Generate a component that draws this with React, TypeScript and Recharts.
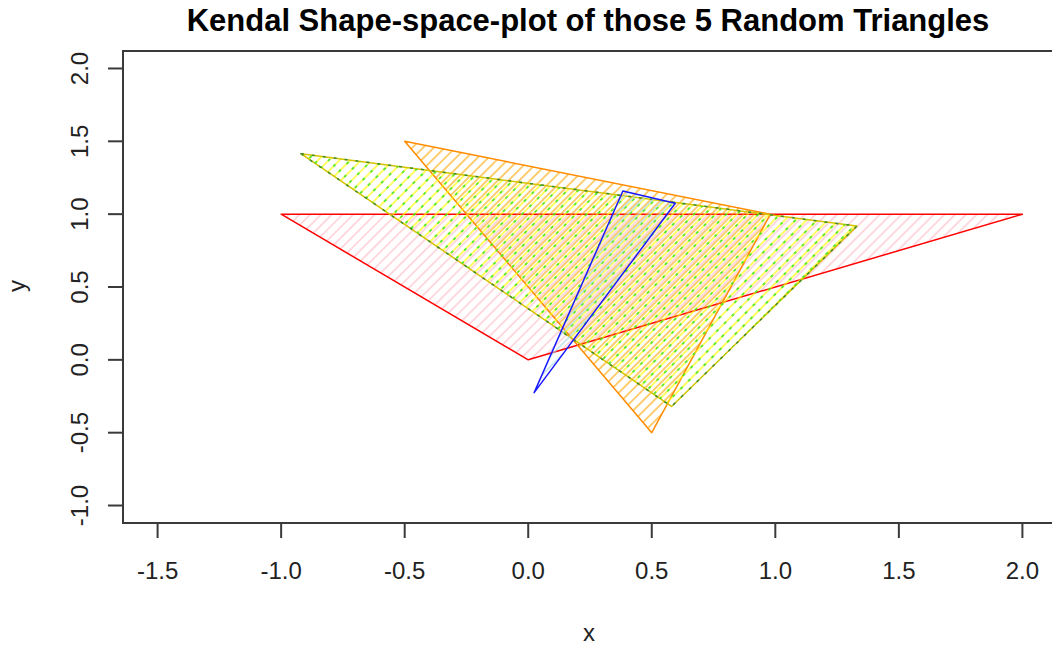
import React from 'react';
import { ScatterChart, Scatter, XAxis, YAxis, ReferenceArea } from 'recharts';

// Axis ticks and domains (R adds 4% around xlim = c(-1.5, 2), ylim = c(-1, 2))
const xTicks = [-1.5, -1.0, -0.5, 0, 0.5, 1.0, 1.5, 2.0];
const yTicks = [-1.0, -0.5, 0, 0.5, 1.0, 1.5, 2.0];
const xDomain: [number, number] = [-1.64, 2.14];
const yDomain: [number, number] = [-1.12, 2.12];

// Triangle vertices
const redX = [-1, 2, 0];
const redY = [1, 1, 0];
const orangeX = [-0.5, 0.98, 0.5];
const orangeY = [1.5, 1.0, -0.5];
const yellowX = [-0.92, 1.33, 0.58];
const yellowY = [1.415, 0.918, -0.32];
const greenX = [-0.92, 1.33, 0.58];
const greenY = [1.415, 0.918, -0.32];
const blueX = [0.383, 0.595, 0.024];
const blueY = [1.159, 1.075, -0.225];

const TITLE = 'Kendal Shape-space-plot of those 5 Random Triangles';
const FONT = '"Liberation Sans", Arial, Helvetica, sans-serif';
const AXIS = '#3a3a3a';

const toPoints = (xs: number[], ys: number[]) => [
  ...xs.map((x, i) => ({ x, y: ys[i] })),
  { x: xs[0], y: ys[0] },
];

type HatchOpts = {
  id: string;
  hatch: string;
  border: string;
  spacing: number;
  offset?: number;
  hatchDash?: string;
  borderDash?: string;
  tileH?: number;
  borderWidth?: number;
  hatchWidth?: number;
};

const makeHatch = (o: HatchOpts) => (props: any) => {
  const pts: { x: number; y: number }[] = props.points || [];
  if (!pts.length) return <g />;
  const d = pts.map((p, i) => `${i ? 'L' : 'M'}${p.x},${p.y}`).join(' ') + ' Z';
  const th = o.tileH ?? o.spacing;
  return (
    <g>
      <defs>
        <pattern
          id={o.id}
          patternUnits="userSpaceOnUse"
          width={o.spacing}
          height={th}
          patternTransform={`rotate(45) translate(${o.offset ?? 0}, 0)`}
        >
          <line
            x1={o.spacing / 2}
            y1={0}
            x2={o.spacing / 2}
            y2={th}
            stroke={o.hatch}
            strokeWidth={o.hatchWidth ?? 1.2}
            strokeDasharray={o.hatchDash}
          />
        </pattern>
      </defs>
      <path
        d={d}
        fill={`url(#${o.id})`}
        stroke={o.border}
        strokeWidth={o.borderWidth ?? 1.5}
        strokeDasharray={o.borderDash}
        strokeLinejoin="round"
      />
    </g>
  );
};

const noDot = () => <g />;

const XTick = (props: any) => {
  const { x, y, payload } = props;
  return (
    <text x={x} y={y + 39} textAnchor="middle" fontFamily={FONT} fontSize={24} fill="#222">
      {Number(payload.value).toFixed(1)}
    </text>
  );
};

const YTick = (props: any) => {
  const { x, y, payload } = props;
  const bx = x - 18;
  return (
    <text
      x={bx}
      y={y}
      textAnchor="middle"
      fontFamily={FONT}
      fontSize={24}
      fill="#222"
      transform={`rotate(-90, ${bx}, ${y})`}
    >
      {Number(payload.value).toFixed(1)}
    </text>
  );
};

export default function App() {
  return (
    <div
      style={{
        position: 'absolute',
        left: 0,
        top: 0,
        width: 1052,
        height: 647,
        overflow: 'hidden',
        background: '#fff',
      }}
    >
      <ScatterChart
        width={1080}
        height={647}
        margin={{ top: 51, right: 23, bottom: 0, left: 0 }}
      >
        <XAxis
          type="number"
          dataKey="x"
          domain={xDomain}
          ticks={xTicks}
          interval={0}
          allowDataOverflow
          height={124}
          tickSize={15}
          tickMargin={2}
          axisLine={{ stroke: AXIS, strokeWidth: 2 }}
          tickLine={{ stroke: AXIS, strokeWidth: 2 }}
          tick={<XTick />}
        />
        <YAxis
          type="number"
          dataKey="y"
          domain={yDomain}
          ticks={yTicks}
          interval={0}
          allowDataOverflow
          width={123}
          tickSize={15}
          tickMargin={2}
          axisLine={{ stroke: AXIS, strokeWidth: 2 }}
          tickLine={{ stroke: AXIS, strokeWidth: 2 }}
          tick={<YTick />}
        />
        <ReferenceArea
          x1={xDomain[0]}
          x2={xDomain[1]}
          y1={yDomain[0]}
          y2={yDomain[1]}
          fill="none"
          fillOpacity={0}
          stroke={AXIS}
          strokeWidth={2}
        />
        <Scatter
          data={toPoints(redX, redY)}
          isAnimationActive={false}
          shape={noDot}
          legendType="none"
          line={makeHatch({ id: 'h-red', hatch: '#ffc0cb', border: '#ff0000', spacing: 7.6, offset: 2.5 })}
        />
        <Scatter
          data={toPoints(orangeX, orangeY)}
          isAnimationActive={false}
          shape={noDot}
          legendType="none"
          line={makeHatch({ id: 'h-orange', hatch: '#ffa500', border: '#ff8c00', spacing: 7.6, offset: 4.6, hatchWidth: 1.1 })}
        />
        <Scatter
          data={toPoints(yellowX, yellowY)}
          isAnimationActive={false}
          shape={noDot}
          legendType="none"
          line={makeHatch({ id: 'h-yellow', hatch: '#ffff00', border: '#d4c400', spacing: 7.6, offset: 0 })}
        />
        <Scatter
          data={toPoints(greenX, greenY)}
          isAnimationActive={false}
          shape={noDot}
          legendType="none"
          line={makeHatch({
            id: 'h-green',
            hatch: '#22e022',
            border: '#3c8c2c',
            spacing: 7.6,
            offset: 0,
            tileH: 11,
            hatchDash: '3 8',
            borderDash: '3 8',
            hatchWidth: 1.4,
          })}
        />
        <Scatter
          data={toPoints(blueX, blueY)}
          isAnimationActive={false}
          shape={noDot}
          legendType="none"
          line={makeHatch({ id: 'h-blue', hatch: '#add8e6', border: '#1a1aff', spacing: 7.6, offset: 6.2 })}
        />
      </ScatterChart>
      <svg
        width={1052}
        height={647}
        style={{ position: 'absolute', left: 0, top: 0, pointerEvents: 'none' }}
      >
        <text x={588} y={31} textAnchor="middle" fontFamily={FONT} fontSize={31} fontWeight="bold" fill="#000">
          {TITLE}
        </text>
        <text x={589} y={641} textAnchor="middle" fontFamily={FONT} fontSize={24} fill="#222">
          x
        </text>
        <text
          x={25}
          y={286}
          textAnchor="middle"
          fontFamily={FONT}
          fontSize={24}
          fill="#222"
          transform="rotate(-90, 25, 286)"
        >
          y
        </text>
      </svg>
    </div>
  );
}
